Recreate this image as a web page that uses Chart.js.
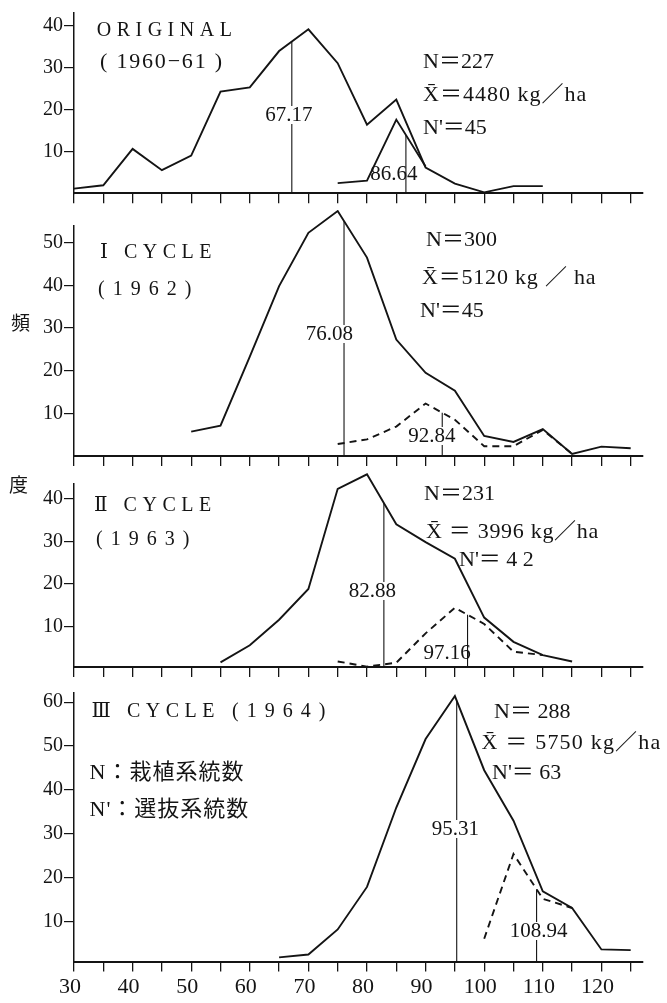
<!DOCTYPE html>
<html>
<head>
<meta charset="utf-8">
<script src="https://cdn.jsdelivr.net/npm/chart.js@4.4.1/dist/chart.umd.min.js"></script>
<style>
  html, body { margin: 0; padding: 0; background: #fff; }
  #wrap { position: relative; width: 667px; height: 1003px; overflow: hidden; }
  canvas { position: absolute; left: 0; }
</style>
</head>
<body>
<div id="wrap">
  <canvas id="p1" width="667" height="210" style="top:0px"></canvas>
  <canvas id="p2" width="667" height="260" style="top:210px"></canvas>
  <canvas id="p3" width="667" height="210" style="top:470px"></canvas>
  <canvas id="p4" width="667" height="323" style="top:680px"></canvas>
</div>
<script>
// Yield classes on the shared horizontal axis
const X_TICKS = [30, 35, 40, 45, 50, 55, 60, 65, 70, 75, 80, 85, 90, 95, 100, 105, 110, 115, 120, 125];
const X_LABELS = [30, 40, 50, 60, 70, 80, 90, 100, 110, 120];

// ORIGINAL (1960-61)
const origX = [30, 35, 40, 45, 50, 55, 60, 65, 70, 75, 80, 85, 90, 95, 100, 105, 110];
const origN = [1.1, 1.9, 10.6, 5.5, 9.0, 24.3, 25.3, 34.0, 39.2, 31.1, 16.4, 22.4, 6.1, 2.3, 0.2, 1.7, 1.7];
const origSelX = [75, 80, 85, 90];
const origSel = [2.4, 3.0, 17.6, 6.4];
const origMeans = [67.17, 86.64];
const origYTicks = [10, 20, 30, 40];

// I CYCLE (1962)
const c1X = [50, 55, 60, 65, 70, 75, 80, 85, 90, 95, 100, 105, 110, 115, 120, 125];
const c1N = [5.7, 7.1, 23.3, 39.8, 52.3, 57.4, 46.5, 27.3, 19.5, 15.3, 4.7, 3.3, 6.3, 0.5, 2.2, 1.8];
const c1SelX = [75, 80, 85, 90, 95, 100, 105, 110, 115];
const c1Sel = [2.8, 3.9, 6.9, 12.3, 8.5, 2.3, 2.3, 6.1, 0.5];
const c1Means = [76.08, 92.84];
const c1YTicks = [10, 20, 30, 40, 50];

// II CYCLE (1963)
const c2X = [55, 60, 65, 70, 75, 80, 85, 90, 95, 100, 105, 110, 115];
const c2N = [1.6, 5.6, 11.6, 18.8, 42.3, 45.7, 34.0, 29.8, 25.9, 12.1, 6.4, 3.3, 1.8];
const c2SelX = [75, 80, 85, 90, 95, 100, 105, 110];
const c2Sel = [1.8, 0.6, 1.5, 8.4, 14.4, 10.6, 4.1, 3.3];
const c2Means = [82.88, 97.16];
const c2YTicks = [10, 20, 30, 40];

// III CYCLE (1964)
const c3X = [65, 70, 75, 80, 85, 90, 95, 100, 105, 110, 115, 120, 125];
const c3N = [1.85, 2.5, 8.2, 17.9, 36.0, 51.6, 61.4, 44.5, 33.0, 16.9, 13.1, 3.65, 3.5];
const c3SelX = [100, 105, 110, 115];
const c3Sel = [6.1, 25.4, 15.2, 13.1];
const c3Means = [95.31, 108.94];
const c3YTicks = [10, 20, 30, 40, 50, 60];

const SERIF = "'Liberation Serif', 'DejaVu Serif', 'Noto Sans CJK JP', serif";
const INK = '#141414';
const AXIS_LEFT = 74, AXIS_RIGHT = 643, X_MAX = 127.1;

const panels = [
  {
    id: 'p1', top: 0, height: 210, areaTop: 7.3, areaBottom: 193.2, yMin: 0, yMax: 43.1,
    yTicks: origYTicks, xLabels: false,
    series: [{ xs: origX, ys: origN, dash: false }, { xs: origSelX, ys: origSel, dash: false }],
    means: [{ v: origMeans[0], s: 0, dx: -3, ly: 115, bg: true }, { v: origMeans[1], s: 1, dx: -12, ly: 174, bg: false }],
    texts: [
      { t: 'ORIGINAL', x: 96.7, y: 31, size: 20, sp: 5.5 },
      { t: '( 1960−61 )', x: 100, y: 62, size: 22, sp: 1.8 },
      { t: 'N＝227', x: 423, y: 62.5, size: 22 },
      { t: 'X̄＝4480 kg／ha', x: 423, y: 95, size: 22, sp: 1 },
      { t: "N'＝45", x: 423, y: 128, size: 22 }
    ]
  },
  {
    id: 'p2', top: 210, height: 260, areaTop: 226, areaBottom: 456, yMin: 0, yMax: 53.9,
    yTicks: c1YTicks, xLabels: false,
    series: [{ xs: c1X, ys: c1N, dash: false }, { xs: c1SelX, ys: c1Sel, dash: true }],
    means: [{ v: c1Means[0], s: 0, dx: -14.6, ly: 334, bg: true }, { v: c1Means[1], s: 1, dx: -10.3, ly: 436, bg: true }],
    texts: [
      { t: 'Ⅰ CYCLE', x: 100, y: 253, size: 20, sp: 5.5 },
      { t: '( 1 9 6 2 )', x: 98, y: 290, size: 20, sp: 1.5 },
      { t: 'N＝300', x: 426, y: 240, size: 22 },
      { t: 'X̄＝5120 kg ／ ha', x: 422, y: 278, size: 22, sp: 0.8 },
      { t: "N'＝45", x: 420, y: 311, size: 22 },
      { t: '頻', x: 11, y: 325, size: 19 }
    ]
  },
  {
    id: 'p3', top: 470, height: 210, areaTop: 483.3, areaBottom: 670.5, yMin: 0.5, yMax: 43.6,
    yTicks: c2YTicks, xLabels: false,
    series: [{ xs: c2X, ys: c2N, dash: false }, { xs: c2SelX, ys: c2Sel, dash: true }],
    means: [{ v: c2Means[0], s: 0, dx: -11.5, ly: 591, bg: true }, { v: c2Means[1], s: 1, dx: -20.4, ly: 653, bg: false }],
    texts: [
      { t: 'Ⅱ CYCLE', x: 94, y: 506, size: 20, sp: 5.5 },
      { t: '( 1 9 6 3 )', x: 96, y: 540, size: 20, sp: 1.5 },
      { t: 'N＝231', x: 424, y: 494, size: 22 },
      { t: 'X̄ ＝ 3996 kg／ha', x: 426, y: 532, size: 22, sp: 0.7 },
      { t: "N'＝ 4 2", x: 459, y: 560, size: 22 },
      { t: '度', x: 9, y: 487, size: 19 }
    ]
  },
  {
    id: 'p4', top: 680, height: 323, areaTop: 690, areaBottom: 961.5, yMin: 0.9, yMax: 62.1,
    yTicks: c3YTicks, xLabels: true,
    series: [{ xs: c3X, ys: c3N, dash: false }, { xs: c3SelX, ys: c3Sel, dash: true }],
    means: [{ v: c3Means[0], s: 0, dx: -1.4, ly: 829, bg: true }, { v: c3Means[1], s: 1, dx: 2, ly: 931, bg: true }],
    texts: [
      { t: 'Ⅲ CYCLE', x: 91.6, y: 712, size: 20, sp: 5.5 },
      { t: '( 1 9 6 4 )', x: 232, y: 712, size: 20, sp: 1.5 },
      { t: 'N＝ 288', x: 494, y: 712, size: 22 },
      { t: 'X̄ ＝ 5750 kg／ha', x: 481.5, y: 743, size: 22, sp: 1.2 },
      { t: "N'＝ 63", x: 492, y: 773, size: 22 },
      { t: 'N：栽植系統数', x: 89.5, y: 773, size: 22, sp: 1 },
      { t: "N'：選抜系統数", x: 89.5, y: 810, size: 22, sp: 1 }
    ]
  }
];

// value of a polyline at v (linear between its vertices)
function interp(xs, ys, v) {
  for (let i = 0; i < xs.length - 1; i++) {
    if (v >= xs[i] && v <= xs[i + 1]) {
      const t = (v - xs[i]) / (xs[i + 1] - xs[i]);
      return ys[i] + t * (ys[i + 1] - ys[i]);
    }
  }
  return null;
}

// letter-spaced text; combining marks stay with their base letter
function drawSpaced(ctx, text, x, y, sp) {
  if (!sp) { ctx.fillText(text, x, y); return; }
  let cx = x;
  const parts = text.match(/.\p{M}*/gu) || [];
  for (const ch of parts) {
    ctx.fillText(ch, cx, y);
    cx += ctx.measureText(ch).width + sp;
  }
}

function notesPlugin(p) {
  return {
    id: 'notes_' + p.id,
    afterDatasetsDraw(chart) {
      const ctx = chart.ctx, sx = chart.scales.x, sy = chart.scales.y;
      ctx.save();
      // class means: vertical line up to the curve, value written on it
      p.means.forEach(m => {
        const s = p.series[m.s];
        const topVal = interp(s.xs, s.ys, m.v);
        const px = sx.getPixelForValue(m.v);
        ctx.strokeStyle = INK;
        ctx.lineWidth = 1.1;
        ctx.setLineDash([]);
        ctx.beginPath();
        ctx.moveTo(px, chart.chartArea.bottom);
        ctx.lineTo(px, sy.getPixelForValue(topVal));
        ctx.stroke();
        const txt = m.v.toFixed(2);
        ctx.font = '21px ' + SERIF;
        const w = ctx.measureText(txt).width;
        const cx = px + m.dx, cy = m.ly - p.top;
        if (m.bg) {
          ctx.fillStyle = '#fff';
          ctx.fillRect(cx - w / 2 - 1, cy - 9, w + 2, 18);
        }
        ctx.fillStyle = INK;
        ctx.textAlign = 'center';
        ctx.textBaseline = 'middle';
        ctx.fillText(txt, cx, cy);
      });
      // panel titles and counts
      ctx.textAlign = 'left';
      ctx.textBaseline = 'middle';
      ctx.fillStyle = INK;
      p.texts.forEach(tx => {
        ctx.font = tx.size + 'px ' + SERIF;
        drawSpaced(ctx, tx.t, tx.x, tx.y - p.top, tx.sp || 0);
      });
      ctx.restore();
    }
  };
}

panels.forEach(p => {
  new Chart(document.getElementById(p.id), {
    type: 'line',
    data: {
      datasets: p.series.map(s => ({
        data: s.xs.map((x, i) => ({ x: x, y: s.ys[i] })),
        borderColor: INK,
        borderWidth: 1.9,
        borderDash: s.dash ? [7, 5] : [],
        pointRadius: 0,
        tension: 0,
        fill: false,
        clip: false
      }))
    },
    options: {
      responsive: false,
      animation: false,
      events: [],
      layout: { padding: { left: 0, right: 667 - AXIS_RIGHT, top: p.areaTop - p.top, bottom: 0 } },
      plugins: { legend: { display: false }, tooltip: { enabled: false } },
      scales: {
        x: {
          type: 'linear', position: 'bottom', min: 30, max: X_MAX,
          afterBuildTicks: s => { s.ticks = X_TICKS.map(v => ({ value: v })); },
          afterFit: s => { s.height = p.top + p.height - p.areaBottom; },
          grid: { drawOnChartArea: false, drawTicks: true, tickLength: 10, color: INK, lineWidth: 1.3 },
          border: { display: true, color: INK, width: 2 },
          ticks: {
            autoSkip: false, maxRotation: 0, minRotation: 0, padding: 3, labelOffset: -4,
            color: INK, font: { family: SERIF, size: 22 },
            callback: v => (p.xLabels && X_LABELS.includes(v)) ? String(v) : ''
          }
        },
        y: {
          type: 'linear', min: p.yMin, max: p.yMax,
          afterBuildTicks: s => { s.ticks = p.yTicks.map(v => ({ value: v })); },
          afterFit: s => { s.width = AXIS_LEFT; },
          grid: { drawOnChartArea: false, drawTicks: true, tickLength: 10, color: INK, lineWidth: 1.2 },
          border: { display: true, color: INK, width: 1.5 },
          ticks: { padding: 1, color: INK, font: { family: SERIF, size: 20 } }
        }
      }
    },
    plugins: [notesPlugin(p)]
  });
});
</script>
</body>
</html>
